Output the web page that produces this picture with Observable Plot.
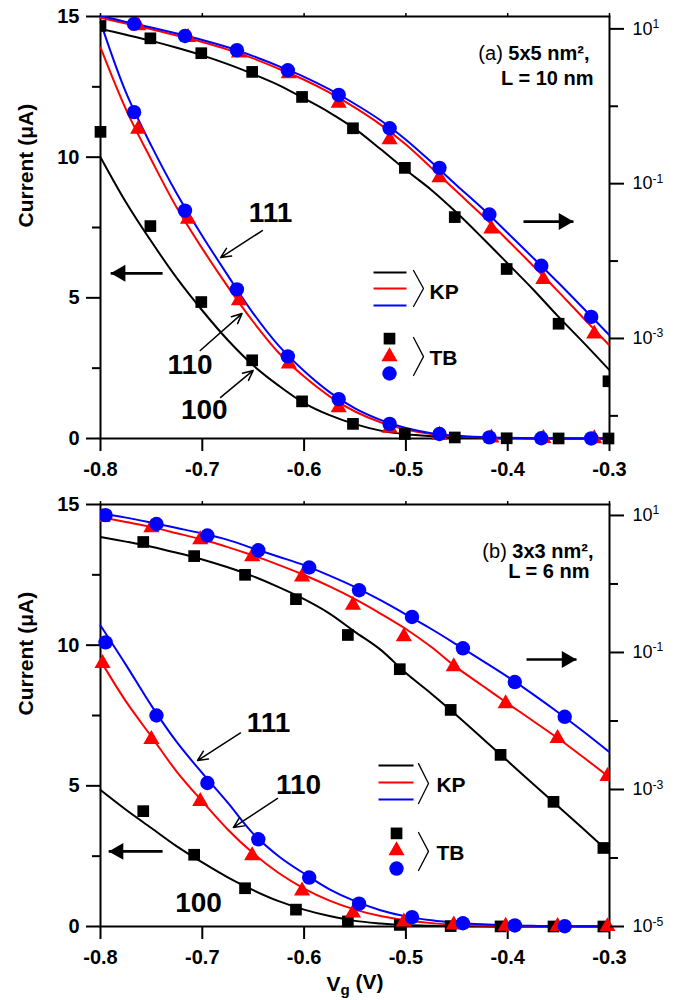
<!DOCTYPE html>
<html>
<head>
<meta charset="utf-8">
<script src="https://cdn.jsdelivr.net/npm/d3@7"></script>
<script src="https://cdn.jsdelivr.net/npm/@observablehq/plot@0.6"></script>
<style>
  body { margin: 0; background: #fff; }
  #fig { position: relative; width: 686px; height: 1000px; background: #fff; }
  .panel { position: absolute; left: 0; width: 686px; }
  .panel svg { position: absolute; left: 0; top: 0; }
</style>
</head>
<body>
<div id="fig"></div>
<script>
// Gate voltage grid of the KP (k·p) curves, V
const vgKP = [-0.8, -0.775, -0.75, -0.725, -0.7, -0.675, -0.65, -0.625, -0.6, -0.575, -0.55,
              -0.525, -0.5, -0.475, -0.45, -0.425, -0.4, -0.375, -0.35, -0.325, -0.3];

// (a) 5x5 nm², L = 10 nm — KP current (µA) for the [100], [110], [111] wires
const kpA100 = [10.0, 8.4, 7.0, 5.7, 4.55, 3.5, 2.6, 1.88, 1.26, 0.83, 0.51, 0.28, 0.15, 0.083,
                0.042, 0.020, 0.0093, 0.0043, 0.0019, 0.00087, 0.00039];
const kpA110 = [13.9, 11.7, 9.9, 8.2, 6.75, 5.4, 4.15, 3.05, 2.2, 1.5, 0.96, 0.58, 0.32, 0.16,
                0.079, 0.039, 0.0186, 0.0087, 0.004, 0.0018, 0.00081];
const kpA111 = [14.8, 12.3, 10.4, 8.7, 7.2, 5.8, 4.45, 3.3, 2.4, 1.65, 1.07, 0.66, 0.37, 0.19,
                0.095, 0.048, 0.023, 0.011, 0.0052, 0.0024, 0.0011];
// (a) TB (tight-binding) points
const tbA100Vg = [-0.8, -0.751, -0.701, -0.651, -0.602, -0.552, -0.501, -0.452, -0.401, -0.35, -0.301];
const tbA100 = [10.9, 7.55, 4.85, 2.78, 1.32, 0.52, 0.16, 0.037, 0.0079, 0.00155, 0.00028];
const tbA110Vg = [-0.763, -0.714, -0.664, -0.615, -0.566, -0.516, -0.467, -0.416, -0.365, -0.315];
const tbA110 = [11.0, 7.8, 4.9, 2.65, 1.1, 0.37, 0.12, 0.026, 0.0058, 0.00115];
const tbA111Vg = [-0.767, -0.717, -0.666, -0.616, -0.566, -0.516, -0.467, -0.418, -0.367, -0.318];
const tbA111 = [11.6, 8.1, 5.3, 2.92, 1.4, 0.52, 0.16, 0.040, 0.0087, 0.0019];

// (b) 3x3 nm², L = 6 nm — KP current (µA)
const kpB100 = [4.85, 4.15, 3.5, 2.85, 2.28, 1.75, 1.29, 0.9, 0.6, 0.37, 0.2, 0.11, 0.05, 0.025,
                0.012, 0.0056, 0.0026, 0.0012, 0.00056, 0.00026, 0.00012];
const kpB110 = [9.45, 8.0, 6.75, 5.5, 4.45, 3.45, 2.6, 1.9, 1.35, 0.92, 0.6, 0.37, 0.22, 0.12,
                0.06, 0.033, 0.018, 0.01, 0.0055, 0.0029, 0.0015];
const kpB111 = [10.7, 9.3, 7.85, 6.55, 5.45, 4.4, 3.3, 2.5, 1.88, 1.32, 0.9, 0.58, 0.36, 0.22,
                0.13, 0.076, 0.044, 0.0245, 0.0132, 0.0069, 0.0035];
// (b) TB points
const tbB100Vg = [-0.758, -0.708, -0.658, -0.608, -0.557, -0.506, -0.456, -0.407, -0.355, -0.306];
const tbB100 = [4.1, 2.55, 1.36, 0.6, 0.18, 0.057, 0.0145, 0.0032, 0.00066, 0.00014];
const tbB110Vg = [-0.798, -0.75, -0.702, -0.651, -0.602, -0.552, -0.502, -0.453, -0.402, -0.351, -0.302];
const tbB110 = [9.35, 6.65, 4.45, 2.52, 1.27, 0.49, 0.17, 0.062, 0.018, 0.0056, 0.00155];
const tbB111Vg = [-0.795, -0.745, -0.695, -0.645, -0.595, -0.546, -0.494, -0.444, -0.393, -0.344];
const tbB111 = [10.1, 7.5, 5.1, 3.1, 1.74, 0.81, 0.33, 0.115, 0.037, 0.0115];

// Axis ticks
const vgTicks = [-0.8, -0.7, -0.6, -0.5, -0.4, -0.3];
const currentTicks = [0, 5, 10, 15];
const currentMinor = [2.5, 7.5, 12.5];
const logTicksA = [10, 0.1, 0.001];
const logTicksB = [10, 0.1, 0.001, 0.00001];
const logMinor = [1, 0.01, 0.0001];

const orientations = ["100", "110", "111"];
const ink = {"100": "#000000", "110": "#ff0000", "111": "#0000ff"};
const symbolOf = {"100": "square", "110": "triangle", "111": "circle"};
const radiusOf = {"100": 6.6, "110": 6, "111": 7.2};

const panels = [
  {
    top: 0, height: 478, marginTop: 16, marginBottom: 40,
    logDomain: [5.1e-5, 14.45], logTicks: logTicksA,
    kp: {"100": kpA100, "110": kpA110, "111": kpA111},
    tbVg: {"100": tbA100Vg, "110": tbA110Vg, "111": tbA111Vg},
    tb: {"100": tbA100, "110": tbA110, "111": tbA111},
    title: [{t: "(a) 5x5 nm²,", dx: -20, dy: 29}, {t: "L = 10 nm", dx: -16, dy: 54}],
    labels: [{v: -0.633, a: 8.0, t: "111"}, {v: -0.712, a: 2.6, t: "110"}, {v: -0.698, a: 1.0, t: "100"}],
    pointers: [
      {v1: -0.641, a1: 7.39, v2: -0.682, a2: 6.43},
      {v1: -0.702, a1: 3.13, v2: -0.661, a2: 4.44},
      {v1: -0.682, a1: 1.46, v2: -0.650, a2: 2.42}
    ],
    toLeft: {v1: -0.739, v2: -0.790, a: 5.87},
    toRight: {v1: -0.3845, v2: -0.3354, a: 7.71},
    legendLineV: [-0.5318, -0.4994], legendLineA: [5.90, 5.33, 4.73],
    legendDotV: -0.5161, legendDotA: [3.55, 2.91, 2.31],
    braceKP: [{v: -0.4925, a: 5.97}, {v: -0.4827, a: 5.33}, {v: -0.4925, a: 4.69}],
    braceTB: [{v: -0.4925, a: 3.59}, {v: -0.4827, a: 2.91}, {v: -0.4925, a: 2.24}],
    legendText: [{v: -0.4768, a: 5.19, t: "KP"}, {v: -0.4768, a: 2.84, t: "TB"}],
    xLabel: false
  },
  {
    top: 478, height: 522, marginTop: 26, marginBottom: 74,
    logDomain: [1e-5, 14.45], logTicks: logTicksB,
    kp: {"100": kpB100, "110": kpB110, "111": kpB111},
    tbVg: {"100": tbB100Vg, "110": tbB110Vg, "111": tbB111Vg},
    tb: {"100": tbB100, "110": tbB110, "111": tbB111},
    title: [{t: "(b) 3x3 nm²,", dx: -16, dy: 39}, {t: "L = 6 nm", dx: -20, dy: 59}],
    labels: [{v: -0.635, a: 7.23, t: "111"}, {v: -0.6055, a: 5.03, t: "110"}, {v: -0.7037, a: 0.82, t: "100"}],
    pointers: [
      {v1: -0.6625, a1: 6.88, v2: -0.7047, a2: 5.90},
      {v1: -0.6261, a1: 4.55, v2: -0.6694, a2: 3.52}
    ],
    toLeft: {v1: -0.739, v2: -0.792, a: 2.67},
    toRight: {v1: -0.3815, v2: -0.3324, a: 9.49},
    legendLineV: [-0.5269, -0.4925], legendLineA: [5.72, 5.12, 4.51],
    legendDotV: -0.5092, legendDotA: [3.31, 2.70, 2.06],
    braceKP: [{v: -0.4876, a: 5.79}, {v: -0.4778, a: 5.08}, {v: -0.4876, a: 4.37}],
    braceTB: [{v: -0.4876, a: 3.34}, {v: -0.4778, a: 2.67}, {v: -0.4876, a: 1.99}],
    legendText: [{v: -0.47, a: 5.01, t: "KP"}, {v: -0.47, a: 2.59, t: "TB"}],
    xLabel: true
  }
];

const baseStyle = {
  background: "transparent",
  overflow: "visible",
  fontFamily: "'Liberation Sans', Arial, sans-serif",
  fontSize: "20px",
  color: "#000"
};

const rowsOf = (vgs, values) => vgs.map((vg, i) => ({vg, current: values[i]}));

// KP curves and TB points, drawn against whichever y scale the plot owns
function seriesMarks(p, clip) {
  const marks = [];
  for (const o of orientations) {
    marks.push(Plot.line(rowsOf(vgKP, p.kp[o]), {
      x: "vg", y: "current", stroke: ink[o], strokeWidth: 2, curve: "catmull-rom", clip
    }));
  }
  for (const o of orientations) {
    marks.push(Plot.dot(rowsOf(p.tbVg[o], p.tb[o]), {
      x: "vg", y: "current", symbol: symbolOf[o], r: radiusOf[o], fill: ink[o], stroke: "none", clip
    }));
  }
  return marks;
}

function annotationMarks(p) {
  const marks = [];
  // orientation labels with pointer arrows
  marks.push(Plot.arrow(p.pointers, {
    x1: "v1", y1: "a1", x2: "v2", y2: "a2", stroke: "#000", strokeWidth: 1.5, headLength: 11, headAngle: 50
  }));
  marks.push(Plot.text(p.labels, {x: "v", y: "a", text: "t", fontSize: 28, fontWeight: "bold"}));
  // filled arrows telling which axis each family belongs to
  for (const f of [p.toLeft, p.toRight]) {
    const left = f.v2 < f.v1;
    marks.push(Plot.link([f], {x1: "v1", x2: "v2", y1: "a", y2: "a", stroke: "#000", strokeWidth: 2.6}));
    marks.push(Plot.dot([f], {
      x: "v2", y: "a", symbol: "triangle", r: 6.3, fill: "#000", stroke: "none",
      rotate: left ? -90 : 90, dx: left ? 9.8 : -9.8
    }));
  }
  // legend: KP lines, TB symbols, angle brackets
  orientations.forEach((o, i) => {
    marks.push(Plot.link([{a: p.legendLineA[i]}], {
      x1: () => p.legendLineV[0], x2: () => p.legendLineV[1], y1: "a", y2: "a", stroke: ink[o], strokeWidth: 2
    }));
    marks.push(Plot.dot([{v: p.legendDotV, a: p.legendDotA[i]}], {
      x: "v", y: "a", symbol: symbolOf[o], r: radiusOf[o], fill: ink[o], stroke: "none"
    }));
  });
  marks.push(Plot.line(p.braceKP, {x: "v", y: "a", stroke: "#000", strokeWidth: 1.3}));
  marks.push(Plot.line(p.braceTB, {x: "v", y: "a", stroke: "#000", strokeWidth: 1.3}));
  marks.push(Plot.text(p.legendText, {x: "v", y: "a", text: "t", textAnchor: "start", fontSize: 21, fontWeight: "bold"}));
  // panel caption in the top-right corner
  for (const c of p.title) {
    marks.push(Plot.text([c], {
      frameAnchor: "top-right", text: "t", dx: c.dx, dy: c.dy, textAnchor: "end",
      fontSize: 20, fontWeight: c.t.startsWith("(") ? "normal" : "bold"
    }));
  }
  return marks;
}

function buildPanel(p) {
  const wrap = document.createElement("div");
  wrap.className = "panel";
  wrap.style.top = p.top + "px";
  wrap.style.height = p.height + "px";

  const common = {
    width: 686, height: p.height,
    marginLeft: 100, marginRight: 77, marginTop: p.marginTop, marginBottom: p.marginBottom,
    style: baseStyle
  };

  // Left axis: linear current
  const linear = Plot.plot({
    ...common,
    x: {domain: [-0.8, -0.3]},
    y: {domain: [0, 15]},
    marks: [
      Plot.frame({strokeWidth: 2}),
      Plot.axisY(currentTicks, {tickSize: 14, tickPadding: 7, fontSize: 20, fontWeight: "bold", strokeWidth: 2, label: null}),
      Plot.axisY(currentMinor, {tickSize: 8, strokeWidth: 2, tickFormat: () => "", label: null}),
      Plot.axisX(vgTicks, {tickSize: 13, tickPadding: 10, fontSize: 20, fontWeight: "bold", strokeWidth: 2,
                           tickFormat: d => d.toFixed(1), label: null}),
      Plot.axisX(vgTicks, {anchor: "top", tickSize: 4, strokeWidth: 1.5, tickFormat: () => "", label: null}),
      Plot.text(["Current (μA)"], {frameAnchor: "left", text: d => d, rotate: -90, dx: -74, fontSize: 21, fontWeight: "bold"}),
      ...(p.xLabel ? [Plot.text(["Vg (V)"], {frameAnchor: "bottom", text: d => d, dy: 64, fontSize: 21, fontWeight: "bold"})] : []),
      ...seriesMarks(p, false),
      ...annotationMarks(p)
    ]
  });

  // Right axis: the same currents on a log scale
  const logPlot = Plot.plot({
    ...common,
    x: {domain: [-0.8, -0.3], axis: null},
    y: {type: "log", domain: p.logDomain},
    marks: [
      Plot.axisY(p.logTicks, {anchor: "right", tickSize: 14, tickPadding: 9, fontSize: 18, strokeWidth: 2,
                              tickFormat: d => "10^" + Math.round(Math.log10(d)), label: null}),
      Plot.axisY(logMinor, {anchor: "right", tickSize: 8, strokeWidth: 2, tickFormat: () => "", label: null}),
      ...seriesMarks(p, true)
    ]
  });

  wrap.appendChild(linear);
  wrap.appendChild(logPlot);
  document.getElementById("fig").appendChild(wrap);
  richText(linear);
  richText(logPlot);
}

// Superscripts, subscripts and mixed weights inside SVG text
function richText(svg) {
  d3.select(svg).selectAll("text").each(function () {
    const el = d3.select(this);
    const s = this.textContent;
    let m;
    if ((m = /^10\^(-?\d+)$/.exec(s))) {
      el.text("10");
      el.append("tspan").attr("dy", "-0.55em").attr("font-size", "0.68em").text(m[1]);
    } else if ((m = /^(\([ab]\) )(.*)$/.exec(s))) {
      el.text(m[1]);
      el.append("tspan").attr("font-weight", "bold").text(m[2]);
    } else if (s === "Vg (V)") {
      el.text("V");
      el.append("tspan").attr("dy", "0.3em").attr("font-size", "0.72em").text("g");
      el.append("tspan").attr("dy", "-0.3em").text(" (V)");
    }
  });
}

panels.forEach(buildPanel);
</script>
</body>
</html>
